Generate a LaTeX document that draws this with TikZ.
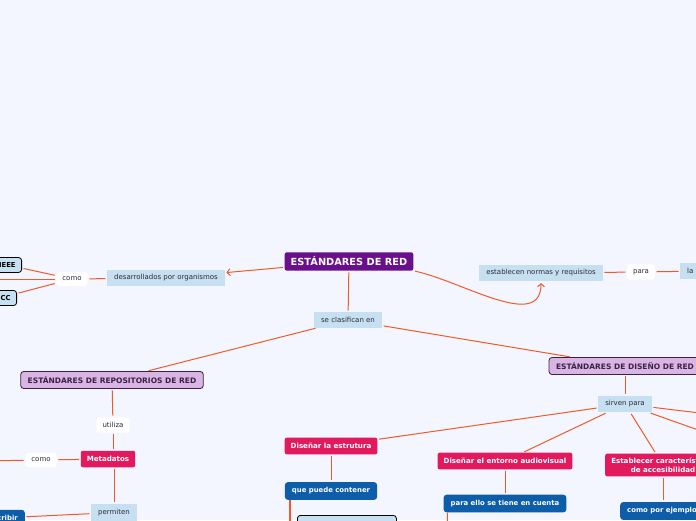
\documentclass[tikz,border=0pt]{standalone}
\usepackage{fontspec}
\setmainfont{DejaVu Sans}
\usetikzlibrary{arrows.meta,positioning}

\definecolor{bgcol}{HTML}{F3F6FE}
\definecolor{linecol}{HTML}{F05A28}
\definecolor{rootcol}{HTML}{6A0F8C}
\definecolor{lilac}{HTML}{D9B5E3}
\definecolor{lilacline}{HTML}{3B2148}
\definecolor{pinkred}{HTML}{E3195E}
\definecolor{paleblue}{HTML}{C6DFF1}
\definecolor{deepblue}{HTML}{0D5DA9}
\definecolor{inkcol}{HTML}{2B2B3A}

\tikzset{
  rootbox/.style={fill=rootcol, text=white, rounded corners=2pt, inner xsep=6pt, inner ysep=4.5pt,
    font=\fontsize{9.8}{11}\selectfont\bfseries},
  typebox/.style={fill=lilac, draw=lilacline, line width=0.8pt, text=lilacline, rounded corners=3pt,
    inner xsep=7pt, inner ysep=5pt, font=\fontsize{7.5}{9}\selectfont\bfseries},
  keybox/.style={fill=pinkred, text=white, rounded corners=2pt, inner xsep=6pt, inner ysep=5.5pt,
    font=\fontsize{7.1}{9}\selectfont\bfseries},
  bluebox/.style={fill=deepblue, text=white, rounded corners=3pt, inner xsep=7pt, inner ysep=5.5pt,
    font=\fontsize{6.9}{9}\selectfont\bfseries},
  linkbox/.style={fill=paleblue, text=inkcol, inner xsep=7pt, inner ysep=5pt,
    font=\fontsize{7}{8}\selectfont},
  wordbox/.style={fill=white, text=inkcol, rounded corners=3pt, inner xsep=6pt, inner ysep=5pt,
    font=\fontsize{7}{8}\selectfont},
  orgbox/.style={fill=paleblue, draw=black, line width=0.8pt, text=black, rounded corners=3pt,
    inner xsep=6pt, inner ysep=5pt, font=\fontsize{6.8}{8}\selectfont\bfseries},
  itembox/.style={fill=paleblue, draw=black, line width=0.8pt, rounded corners=3pt},
  link/.style={draw=linecol, line width=1pt, shorten <=1.5pt, shorten >=1.5pt},
  arrowlink/.style={link, -{Straight Barb[length=3pt,width=7pt]}}
}

\begin{document}
\begin{tikzpicture}[x=1pt,y=-1pt]

  \useasboundingbox (0,0) rectangle (696,520);
  \fill[bgcol] (0,0) rectangle (696,520);
  \clip (0,0) rectangle (696,520);

  % main node and its branches
  \node[rootbox] (red) at (349,261.5) {ESTÁNDARES DE RED};
  \node[linkbox] (desarr) at (166,278) {desarrollados por organismos};
  \node[wordbox] (como1) at (72,279) {como};
  \node[orgbox, anchor=east] (ieee) at (22,265) {IEEE};
  \node[orgbox, anchor=east, text width=22pt, align=right] (cc) at (17,298) {CC};
  \coordinate (org3) at (-20,279);
  \node[linkbox] (estab) at (541,273) {establecen normas y requisitos};
  \node[wordbox] (para) at (641,272) {para};
  \node[linkbox, anchor=west, text width=30pt, align=left] (la) at (680,271) {la};
  \node[linkbox] (clasif) at (348,320) {se clasifican en};

  % the two kinds of standards
  \node[typebox] (repos) at (112,380) {ESTÁNDARES DE REPOSITORIOS DE RED};
  \node[typebox] (diseno) at (625,366) {ESTÁNDARES DE DISEÑO DE RED};

  % repositories side
  \node[wordbox] (utiliza) at (113,425) {utiliza};
  \node[keybox] (meta) at (108,459) {Metadatos};
  \node[wordbox] (como2) at (41,460) {como};
  \coordinate (meta3) at (-20,461);
  \node[linkbox] (permiten) at (114,512.5) {permiten};
  \node[bluebox, anchor=east] (describ) at (25,518) {Describir};

  % design side
  \node[linkbox] (sirven) at (625,404) {sirven para};
  \node[keybox] (estru) at (331,446) {Diseñar la estrutura};
  \node[keybox] (audio) at (505,461) {Diseñar el entorno audiovisual};
  \node[keybox, align=center, inner ysep=4pt] (acces) at (663,465) {Establecer características\\de accesibilidad};
  \coordinate (sirv4) at (720,415.4);
  \coordinate (sirv5) at (720,437.7);
  \node[bluebox] (cont) at (331,491) {que puede contener};
  \node[bluebox] (cuenta) at (505,503.5) {para ello se tiene en cuenta};
  \node[bluebox, anchor=west] (ejemplo) at (620,511) {como por ejemplo};
  \node[itembox, anchor=north west, minimum width=99pt, minimum height=24pt] (item) at (297,515) {};
  \coordinate (cuenta1) at (447,545);

  % connectors
  \draw[arrowlink] (red) -- (desarr);
  \draw[link] (desarr) -- (como1);
  \draw[link] (como1) -- (ieee);
  \draw[link] (como1) -- (cc);
  \draw[link] (como1) -- (org3);
  \draw[arrowlink] (red.south east) to[out=-12,in=-90] (estab.south);
  \draw[link] (estab) -- (para);
  \draw[link] (para) -- (la);
  \draw[link] (red) -- (clasif);
  \draw[link] (clasif) -- (repos);
  \draw[link] (clasif) -- (diseno);
  \draw[link] (repos) -- (utiliza);
  \draw[link] (utiliza) -- (utiliza |- meta.north);
  \draw[link] (meta) -- (como2);
  \draw[link] (como2) -- (meta3);
  \draw[link] (permiten |- meta.south) -- (permiten);
  \draw[link] (permiten) -- (describ);
  \draw[link] (diseno) -- (sirven);
  \draw[link] (sirven) -- (estru);
  \draw[link] (sirven) -- (audio);
  \draw[link] (sirven) -- (acces);
  \draw[link] (sirven) -- (sirv4);
  \draw[link] (sirven) -- (sirv5);
  \draw[link] (estru) -- (cont);
  \draw[link] (audio) -- (cuenta);
  \draw[link] (acces) -- (ejemplo.north -| acces);
  \draw[link, line width=1.8pt, shorten <=0pt] ([xshift=5pt]cont.south west) |- (item.west);
  \draw[link, shorten <=0pt] ([xshift=4pt]cuenta.south west) -- (cuenta1);

\end{tikzpicture}
\end{document}
